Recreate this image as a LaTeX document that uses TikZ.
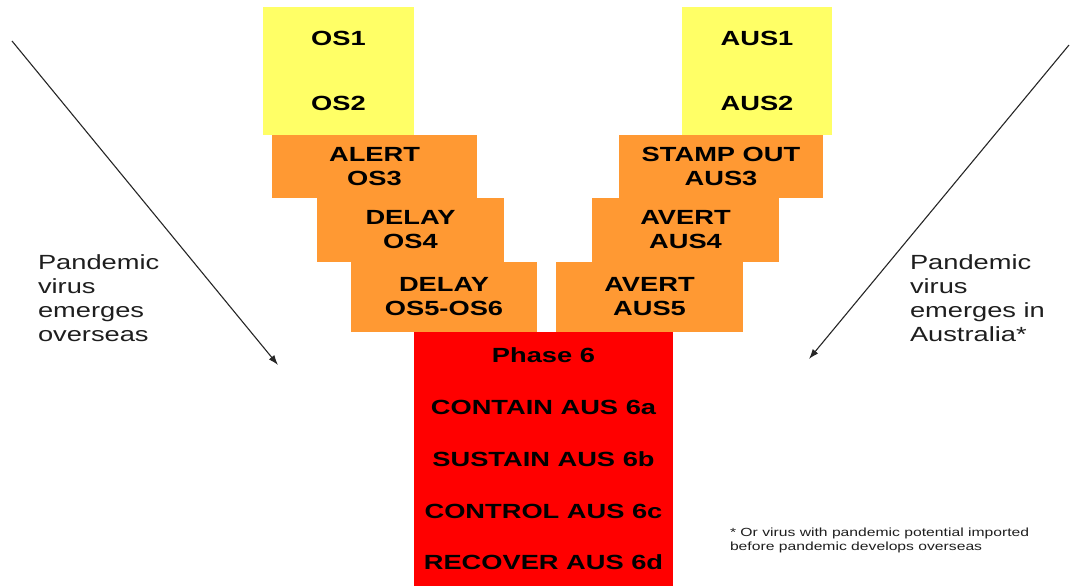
\documentclass[tikz,border=0pt]{standalone}
\usepackage{fontspec}
\setmainfont{Liberation Sans}[FakeStretch=1.33]
\usetikzlibrary{arrows.meta}
\definecolor{yel}{RGB}{255,255,102}
\definecolor{org}{RGB}{255,153,51}
\definecolor{redb}{RGB}{255,0,0}
\definecolor{lbl}{RGB}{30,30,30}
\begin{document}
\begin{tikzpicture}[x=1pt,y=-1pt,
  box/.style={inner sep=0pt, outer sep=0pt, align=center, anchor=north west,
    font=\fontsize{20.5}{24}\selectfont\bfseries, text=black},
  ybox/.style={box, fill=yel},
  obox/.style={box, fill=org},
  rbox/.style={box, fill=redb},
  lab/.style={inner sep=0pt, outer sep=0pt, align=left, anchor=north west,
    font=\fontsize{20.5}{24}\selectfont, text=lbl},
  note/.style={inner sep=0pt, outer sep=0pt, align=left, anchor=north west,
    font=\fontsize{11.8}{14}\selectfont, text=lbl},
  arr/.style={line width=1.1pt, draw=black!85, -{Latex[length=10pt,width=7pt]}}]
\useasboundingbox (0,0) rectangle (1071,586);
% left column
\node[ybox, minimum width=151pt, minimum height=128pt] (os12) at (263,7) {OS1\\[41pt]OS2};
\node[obox, minimum width=205pt, minimum height=63pt] (os3) at (272,135) {ALERT\\OS3};
\node[obox, minimum width=187pt, minimum height=64pt] (os4) at (317,198) {DELAY\\OS4};
\node[obox, minimum width=186pt, minimum height=70pt] (os56) at (351,262) {DELAY\\OS5-OS6};
% right column
\node[ybox, minimum width=150pt, minimum height=128pt] (aus12) at (682,7) {AUS1\\[41pt]AUS2};
\node[obox, minimum width=204pt, minimum height=63pt] (aus3) at (619,135) {STAMP OUT\\AUS3};
\node[obox, minimum width=187pt, minimum height=64pt] (aus4) at (592,198) {AVERT\\AUS4};
\node[obox, minimum width=187pt, minimum height=70pt] (aus5) at (556,262) {AVERT\\AUS5};
% phase 6
\node[rbox, minimum width=259pt, minimum height=254pt] (p6) at (414,332)
  {Phase 6\\[27.7pt]CONTAIN AUS 6a\\[27.7pt]SUSTAIN AUS 6b\\[27.7pt]CONTROL AUS 6c\\[27.7pt]RECOVER AUS 6d};
% labels
\node[lab] (lleft) at (38,255) {Pandemic\\virus\\emerges\\overseas};
\node[lab] (lright) at (910,255) {Pandemic\\virus\\emerges in\\Australia*};
\node[note] (fn) at (730,528) {* Or virus with pandemic potential imported\\before pandemic develops overseas};
% arrows
\coordinate (la1) at (12,41);
\coordinate (la2) at (278,365);
\coordinate (ra1) at (1069,45);
\coordinate (ra2) at (809,359);
\draw[arr] (la1) -- (la2);
\draw[arr] (ra1) -- (ra2);
\end{tikzpicture}
\end{document}
